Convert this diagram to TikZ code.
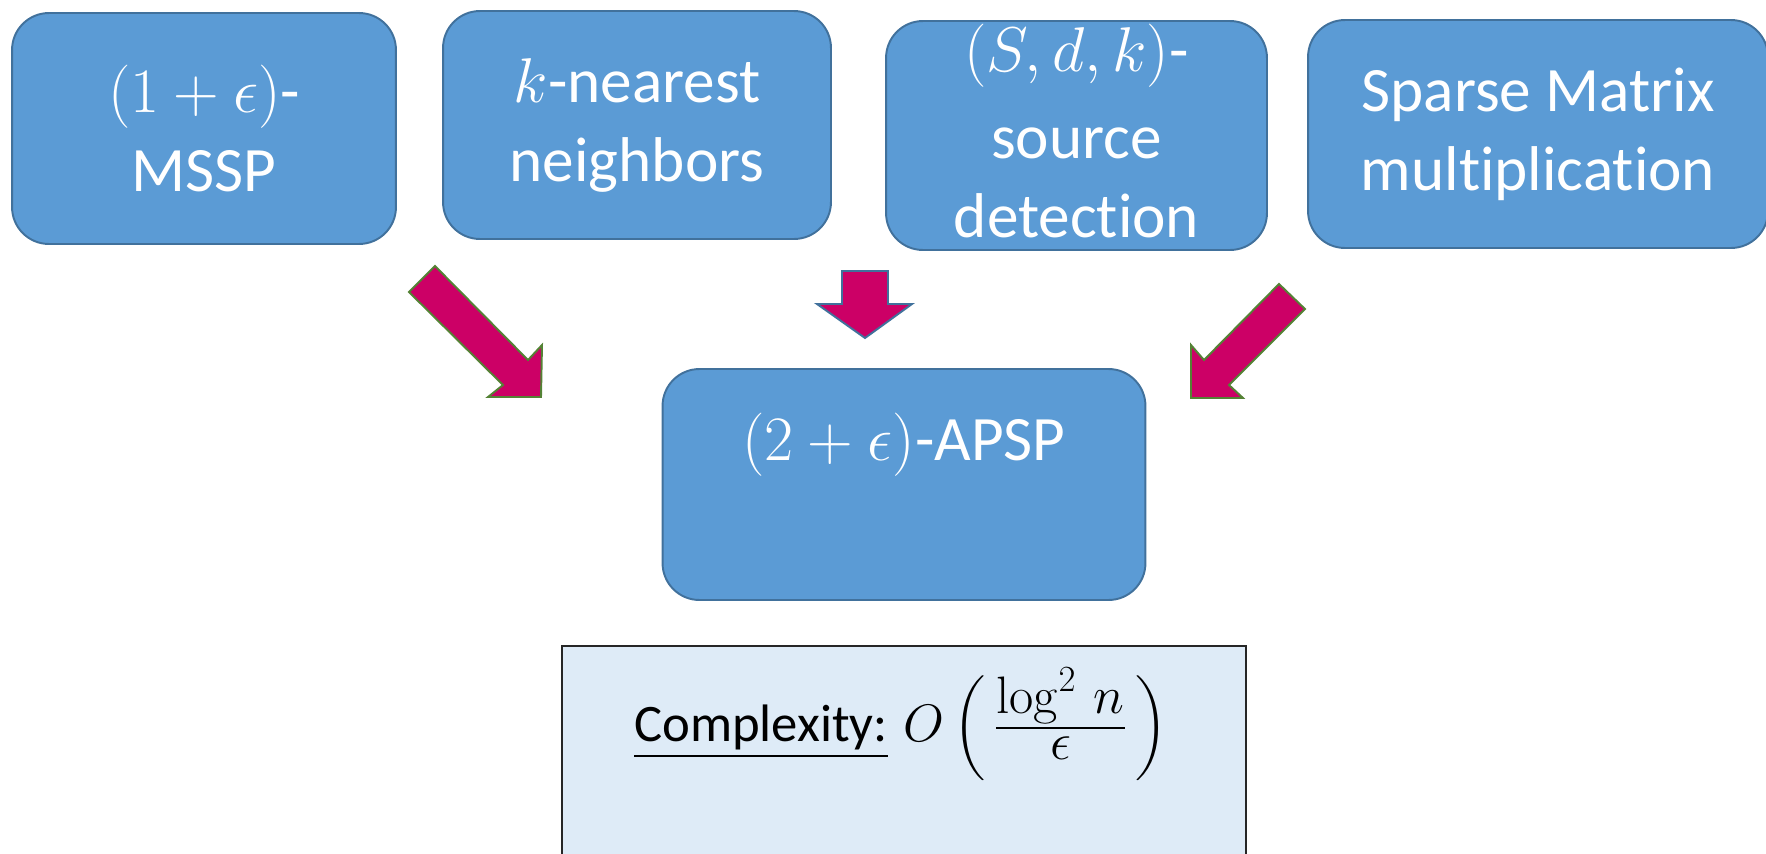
\RequirePackage{fix-cm}
\documentclass[tikz,border=0pt]{standalone}
\usepackage{amsmath}
\usepackage[no-math]{fontspec}
\setmainfont{Carlito}[Ligatures={NoCommon}]
\definecolor{boxfill}{HTML}{5B9BD5}
\definecolor{boxline}{HTML}{41719C}
\definecolor{arrfill}{HTML}{CC0066}
\definecolor{arrgreen}{HTML}{548235}
\definecolor{cplxfill}{HTML}{DEEBF7}
\begin{document}
\begin{tikzpicture}[x=0.02cm,y=-0.02cm,
  box/.style={draw=boxline, fill=boxfill, line width=1.1pt, rounded corners=21pt, inner sep=0pt},
  boxtext/.style={text=white, align=center, font=\fontsize{36}{45}\selectfont, inner sep=0pt},
  blockarrow/.style={fill=arrfill, draw=arrgreen, line width=1.1pt, line join=miter},
  cplxbox/.style={draw=black!85, fill=cplxfill, line width=0.9pt, inner sep=0pt}]
\useasboundingbox (0,0) rectangle (1766,853);
\clip (0,0) rectangle (1766,853);
% top boxes
\node[box, boxtext, minimum width=7.68cm, minimum height=4.62cm] (b1) at (204,128.5) {$(1+\epsilon)$-\\MSSP};
\node[box, boxtext, minimum width=7.76cm, minimum height=4.56cm] (b2) at (637,125) {$k$-nearest\\neighbors};
\node[box, minimum width=7.62cm, minimum height=4.58cm] (b3) at (1076.5,135.5) {};
\node[boxtext, font=\fontsize{36}{45}\selectfont] (b3T) at (1076.5,131) {$(S,d,k)$-\\[5pt]source\\detection};
\node[box, boxtext, minimum width=9.2cm, minimum height=4.56cm] (b4) at (1538,134) {Sparse Matrix\\multiplication};
% result box
\node[box, minimum width=9.66cm, minimum height=4.62cm] (apsp) at (904,484.5) {};
\node[boxtext] (apspT) at (904,445) {$(2+\epsilon)$-APSP};
% complexity box
\node[cplxbox, minimum width=13.68cm, minimum height=4.6cm, anchor=north] (cb) at (904,645) {};
\node[boxtext, text=black, font=\fontsize{30}{36}\selectfont] (cbT) at (901,724) {\underline{Complexity:}\hspace{9pt}$O\,\Bigl(\,\genfrac{}{}{1.6pt}{1}{\displaystyle\log^2\, n}{\displaystyle\epsilon}\,\Bigr)$};
% block arrows
\draw[blockarrow] (409,292) -- (435,266) -- (528,360) -- (542,345) -- (541,397) -- (488,397) -- (503,385) -- cycle;
\draw[blockarrow, draw=boxline] (842,271) -- (888,271) -- (888,304) -- (912,304) -- (865,338) -- (817,304) -- (842,304) -- cycle;
\draw[blockarrow] (1279,284) -- (1305,309) -- (1229,385) -- (1243,398) -- (1191,398) -- (1191,345) -- (1204,360) -- cycle;
\end{tikzpicture}
\end{document}
